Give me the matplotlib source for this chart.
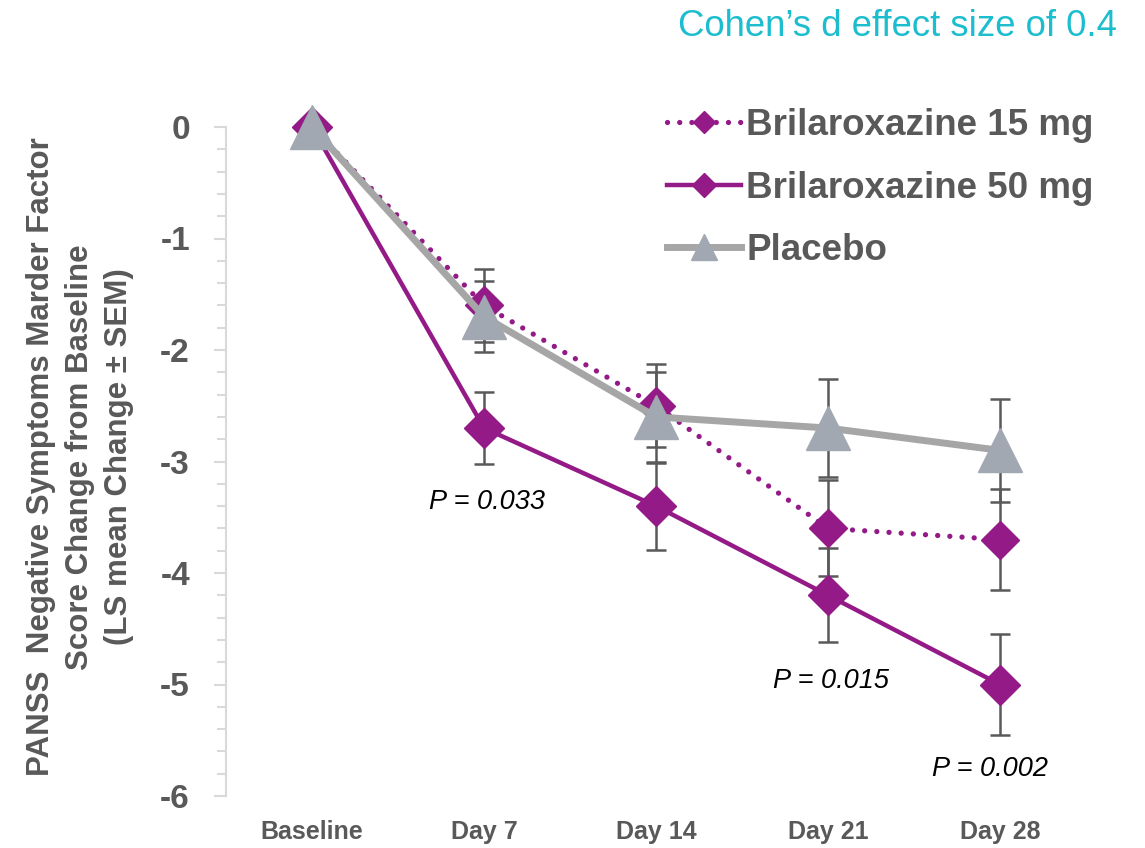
import matplotlib
matplotlib.use("Agg")
import matplotlib.pyplot as plt
from matplotlib.ticker import MultipleLocator

# --- data ---
visits = ["Baseline", "Day 7", "Day 14", "Day 21", "Day 28"]
mg15 = [0, -1.6, -2.5, -3.6, -3.7]
mg15_sem = [0, 0.33, 0.37, 0.43, 0.45]
mg50 = [0, -2.7, -3.4, -4.2, -5.0]
mg50_sem = [0, 0.32, 0.39, 0.42, 0.45]
placebo = [0, -1.7, -2.6, -2.7, -2.9]
placebo_sem = [0, 0.32, 0.40, 0.44, 0.46]

p_labels = ["P = 0.033", "P = 0.015", "P = 0.002"]
p_pos = [(1.02, -3.36), (3.02, -4.97), (3.94, -5.76)]

PURPLE = "#931A87"
GRAY_LINE = "#A6A6A6"
GRAY_MARK = "#A1A8B1"
DARK = "#595959"
AXIS = "#D9D9D9"

plt.rcParams["font.family"] = ["Liberation Sans", "DejaVu Sans"]
plt.rcParams["axes.unicode_minus"] = False

fig = plt.figure(figsize=(11.45, 8.48), dpi=100)
ax = fig.add_axes([226 / 1145, 1 - 796 / 848, 860 / 1145, 669 / 848])

x = list(range(len(visits)))

# error bars first so markers sit on top
for vals, sem in [(mg50, mg50_sem), (mg15, mg15_sem), (placebo, placebo_sem)]:
    ax.errorbar(x[1:], vals[1:], yerr=sem[1:], fmt="none", ecolor=DARK,
                elinewidth=1.8, capsize=7, capthick=1.8, zorder=2)

l50, = ax.plot(x, mg50, color=PURPLE, lw=3.2, marker="D", ms=20.5,
               mec=PURPLE, mfc=PURPLE, zorder=3, clip_on=False,
               label="Brilaroxazine 50 mg")
l15, = ax.plot(x, mg15, color=PURPLE, lw=3.8, ls=(0, (0.01, 2.3)),
               dash_capstyle="round", marker="D", ms=19, mec=PURPLE,
               mfc=PURPLE, zorder=4, clip_on=False,
               label="Brilaroxazine 15 mg")
lpl, = ax.plot(x, placebo, color=GRAY_LINE, lw=5, marker="^", ms=32,
               mec=GRAY_MARK, mfc=GRAY_MARK, zorder=5, clip_on=False,
               label="Placebo")

for txt, (px, py) in zip(p_labels, p_pos):
    ax.text(px, py, txt, ha="center", va="center", fontsize=19.5,
            style="italic", color="black")

ax.set_xlim(-0.5, 4.5)
ax.set_ylim(-6, 0)
ax.set_xticks(x)
ax.set_xticklabels(visits, fontsize=18, fontweight="bold", color=DARK)
ax.tick_params(axis="x", length=0, pad=17)
ax.yaxis.set_major_locator(MultipleLocator(1))
ax.yaxis.set_minor_locator(MultipleLocator(0.2))
ax.tick_params(axis="y", which="major", length=9, width=1.5, color=AXIS,
               pad=17, labelsize=24, labelcolor=DARK)
ax.tick_params(axis="y", which="minor", length=6.5, width=1.5, color=AXIS)
for lab in ax.get_yticklabels():
    lab.set_fontweight("bold")
for s in ["top", "right", "bottom"]:
    ax.spines[s].set_visible(False)
ax.spines["left"].set_color(AXIS)
ax.spines["left"].set_linewidth(1.5)

fig.text(80 / 1145, 1 - 457 / 848,
         "PANSS  Negative Symptoms Marder Factor\n"
         "Score Change from Baseline\n(LS mean Change \u00b1 SEM)",
         rotation=90, ha="center", va="center", fontsize=22.5,
         fontweight="bold", color=DARK, linespacing=1.4)

fig.text(1117 / 1145, 1 - 27 / 848, "Cohen\u2019s d effect size of 0.4",
         ha="right", va="center", fontsize=26.3, color="#1CBDCF")

leg = fig.legend(handles=[l15, l50, lpl], loc="upper left",
                 bbox_to_anchor=(667 / 1145, 1 - 108 / 848), frameon=False,
                 borderpad=0, borderaxespad=0, handlelength=2.0,
                 handletextpad=0.15, labelspacing=0.75, markerscale=0.6,
                 prop={"size": 26.5, "weight": "bold"})
for t in leg.get_texts():
    t.set_color(DARK)

fig.savefig("out.png", dpi=100)
